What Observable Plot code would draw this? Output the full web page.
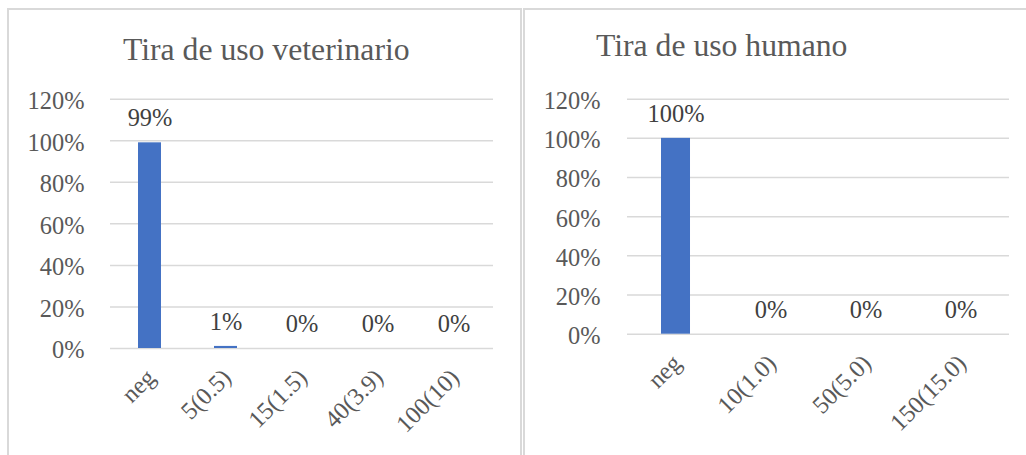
<!DOCTYPE html>
<html>
<head>
<meta charset="utf-8">
<script src="https://cdn.jsdelivr.net/npm/d3@7"></script>
<script src="https://cdn.jsdelivr.net/npm/@observablehq/plot@0.6"></script>
<style>
  body { margin: 0; background: #fff; width: 1026px; height: 455px; overflow: hidden; position: relative;
         font-family: "Liberation Serif", "Times New Roman", serif; }
  .panel { position: absolute; top: 8px; height: 480px; border: 2px solid #d9d9d9; border-bottom: none; box-sizing: border-box; }
  #p1 { left: 7px; width: 515px; }
  #p2 { left: 523px; width: 520px; border-right: none; }
  .title { position: absolute; font-size: 31.7px; line-height: 32px; color: #595959; white-space: nowrap; }
  .chart { position: absolute; top: 60px; }
  .chart svg { overflow: visible; max-width: none; }
</style>
</head>
<body>
<div class="panel" id="p1"></div>
<div class="panel" id="p2"></div>
<div class="title" style="left:123px; top:34px">Tira de uso veterinario</div>
<div class="title" style="left:596px; top:30px">Tira de uso humano</div>
<div class="chart" id="c1" style="left:0px"></div>
<div class="chart" id="c2" style="left:523px"></div>
<script>
// Veterinary strip readings
const vetCategories = ["neg", "5(0.5)", "15(1.5)", "40(3.9)", "100(10)"];
const vetValues = [0.99, 0.01, 0, 0, 0];

// Human-use strip readings
const humCategories = ["neg", "10(1.0)", "50(5.0)", "150(15.0)"];
const humValues = [1.00, 0, 0, 0];

// Shared percentage axis
const yTicks = [0, 0.2, 0.4, 0.6, 0.8, 1.0, 1.2];

const pct = d3.format(".0%");
const serif = '"Liberation Serif", "Times New Roman", serif';
const fs = 24.4;

function barChart({categories, values, width, height, marginLeft, marginRight, tickPad}) {
  const data = categories.map((c, i) => ({c, v: values[i]}));
  return Plot.plot({
    width, height,
    marginTop: 38.7, marginBottom: 100, marginLeft, marginRight,
    style: {fontFamily: serif, background: "transparent"},
    x: {domain: categories, paddingInner: 0.7, paddingOuter: 0.35, label: null},
    y: {domain: [0, 1.2], label: null},
    marks: [
      Plot.gridY(yTicks, {stroke: "#d9d9d9", strokeOpacity: 1, strokeWidth: 1.5}),
      Plot.axisY(yTicks, {tickSize: 0, tickPadding: tickPad, tickFormat: pct, fontSize: fs, fontFamily: serif, fill: "#595959", dy: 2, label: null}),
      Plot.axisX({tickSize: 0, tickPadding: 25, tickRotate: -45, fontSize: fs, fontFamily: serif, fill: "#595959", dx: 1, label: null}),
      Plot.barY(data, {x: "c", y: "v", fill: "#4472C4"}),
      Plot.text(data, {x: "c", y: "v", text: d => pct(d.v), lineAnchor: "bottom", dy: -16.5, fontSize: fs, fontFamily: serif, fill: "#404040"})
    ]
  });
}

document.getElementById("c1").append(barChart({
  categories: vetCategories, values: vetValues,
  width: 515, height: 388, marginLeft: 110, marginRight: 22, tickPad: 26
}));
document.getElementById("c2").append(barChart({
  categories: humCategories, values: humValues,
  width: 503, height: 373.7, marginLeft: 104, marginRight: 17, tickPad: 27
}));
</script>
</body>
</html>
